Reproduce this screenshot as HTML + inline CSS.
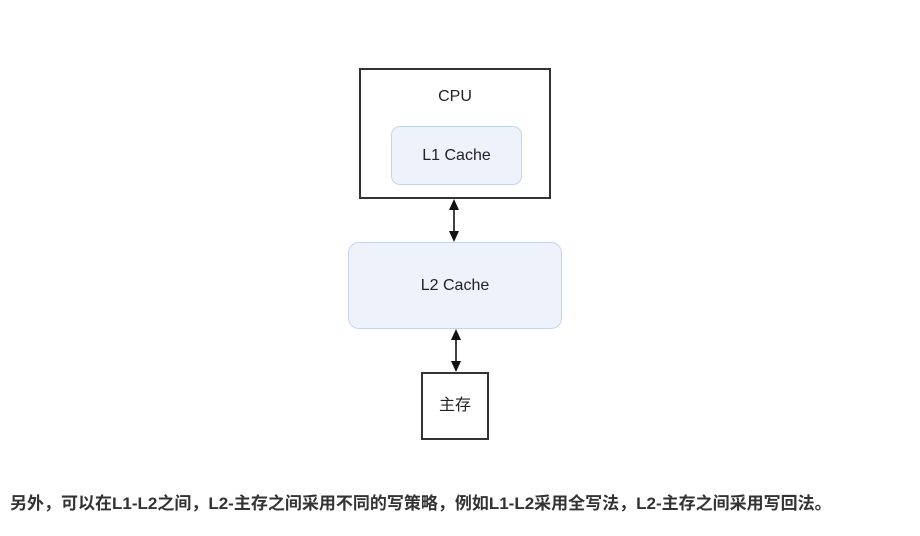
<!DOCTYPE html>
<html><head><meta charset="utf-8"><style>
body{margin:0;width:920px;height:536px;background:#fff;position:relative;overflow:hidden;font-family:"Liberation Sans","Noto Sans CJK SC",sans-serif;color:#222}
.b{position:absolute;box-sizing:border-box}
</style></head><body>
<div class="b" style="left:359px;top:68px;width:192px;height:131px;border:2px solid #333"></div>
<div class="b" style="left:359px;top:88px;width:192px;text-align:center;font-size:16px">CPU</div>
<div class="b" style="left:391px;top:126px;width:131px;height:59px;border:1px solid #c5d4ea;background:#edf2fb;border-radius:9px;text-align:center;line-height:57px;font-size:16px">L1 Cache</div>
<div class="b" style="left:348px;top:242px;width:214px;height:87px;border:1px solid #c5d4ea;background:#edf2fb;border-radius:11px;text-align:center;line-height:85px;font-size:16px">L2 Cache</div>
<div class="b" style="left:421px;top:372px;width:68px;height:68px;border:2px solid #333;text-align:center;line-height:64px;font-size:16px">主存</div>
<svg class="b" style="left:0;top:0" width="920" height="536">
<g stroke="#111" stroke-width="1.6" fill="#111">
<line x1="454" y1="203" x2="454" y2="238"/>
<polygon points="454,199 449,210 459,210" stroke="none"/>
<polygon points="454,242 449,231 459,231" stroke="none"/>
<line x1="456" y1="333" x2="456" y2="368"/>
<polygon points="456,329 451,340 461,340" stroke="none"/>
<polygon points="456,372 451,361 461,361" stroke="none"/>
</g></svg>
<div class="b" style="left:10px;top:489px;font-size:17px;font-weight:bold;color:#333;white-space:nowrap">另外，可以在L1-L2之间，L2-主存之间采用不同的写策略，例如L1-L2采用全写法，L2-主存之间采用写回法。</div>
</body></html>
